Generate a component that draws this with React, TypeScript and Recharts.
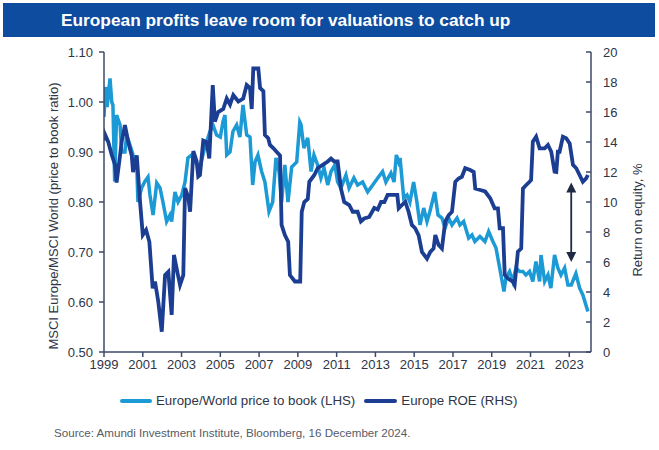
import React from "react";
import {
  LineChart,
  Line,
  XAxis,
  YAxis,
  ReferenceLine,
} from "recharts";

// Europe/World price to book (LHS)
const pbDates = [
  1999.0, 1999.08, 1999.16, 1999.31, 1999.4, 1999.46, 1999.55, 1999.65, 1999.83, 1999.91,
  2000.08, 2000.17, 2000.34, 2000.5, 2000.69, 2000.75, 2000.94,
  2001.11, 2001.27, 2001.37, 2001.53, 2001.72, 2001.89,
  2002.04, 2002.23, 2002.4, 2002.49, 2002.66, 2002.82,
  2003.01, 2003.18, 2003.33, 2003.52, 2003.69, 2003.95,
  2004.2, 2004.47, 2004.62, 2004.81,
  2005.0, 2005.14, 2005.24, 2005.33, 2005.5, 2005.65, 2005.84,
  2006.01, 2006.17, 2006.36, 2006.53, 2006.67, 2006.79, 2006.94,
  2007.13, 2007.3, 2007.51, 2007.7, 2007.87,
  2008.03, 2008.16, 2008.33, 2008.49, 2008.68, 2008.94,
  2009.1, 2009.16, 2009.31, 2009.51, 2009.68, 2009.83,
  2010.02, 2010.19, 2010.35, 2010.54, 2010.71, 2010.91,
  2011.05, 2011.22, 2011.48, 2011.64, 2011.89,
  2012.08, 2012.34, 2012.6, 2012.86,
  2013.12, 2013.37, 2013.54, 2013.8, 2013.96,
  2014.08, 2014.2, 2014.27, 2014.46, 2014.63, 2014.78, 2014.97,
  2015.14, 2015.3, 2015.49, 2015.66, 2015.81,
  2016.06, 2016.23, 2016.43, 2016.59, 2016.78, 2016.95,
  2017.21, 2017.36, 2017.55, 2017.81, 2017.98,
  2018.13, 2018.39, 2018.65, 2018.84,
  2019.06, 2019.22, 2019.41, 2019.63, 2019.73, 2019.92,
  2020.09, 2020.25, 2020.44, 2020.61, 2020.76, 2020.95,
  2021.12, 2021.28, 2021.47, 2021.54, 2021.73, 2021.9,
  2022.05, 2022.24, 2022.41, 2022.57, 2022.76, 2022.93,
  2023.1, 2023.34, 2023.53, 2023.7, 2023.96,
];
const pbValues = [
  0.97, 1.03, 0.99, 1.047, 1.0, 0.994, 0.841, 0.974, 0.954, 0.9,
  0.9, 0.934, 0.914, 0.894, 0.874, 0.8, 0.828,
  0.841, 0.85, 0.814, 0.774, 0.838, 0.828,
  0.8, 0.761, 0.774, 0.761, 0.82, 0.8,
  0.814, 0.84, 0.888, 0.894, 0.88, 0.87,
  0.91, 0.941, 0.954, 0.934,
  0.93, 0.961, 0.974, 0.894, 0.9, 0.941, 0.954,
  0.93, 0.994, 0.934, 0.93, 0.834, 0.88, 0.894,
  0.861, 0.84, 0.781, 0.8, 0.888,
  0.861, 0.8, 0.874, 0.8, 0.87, 0.88,
  0.96, 0.955, 0.908, 0.928, 0.861, 0.894,
  0.874, 0.848, 0.868, 0.834, 0.861, 0.874,
  0.84, 0.828, 0.854, 0.828, 0.848,
  0.834, 0.84, 0.82, 0.834,
  0.848, 0.861, 0.84, 0.858, 0.84,
  0.894, 0.88, 0.888, 0.808, 0.814, 0.8, 0.84,
  0.8, 0.754, 0.788, 0.761, 0.781,
  0.82, 0.774, 0.768, 0.748, 0.768, 0.754,
  0.768, 0.754, 0.761, 0.728, 0.734,
  0.721, 0.731, 0.721, 0.741,
  0.721, 0.708, 0.668, 0.621, 0.648, 0.661,
  0.641, 0.668, 0.661, 0.661, 0.654, 0.661,
  0.641, 0.681, 0.641, 0.694, 0.641, 0.654,
  0.628, 0.694, 0.668, 0.654, 0.668, 0.634,
  0.634, 0.657, 0.628, 0.614, 0.581,
];

// Europe ROE (RHS), %
const roeDates = [
  1999.0, 1999.05, 1999.22, 1999.4, 1999.57, 1999.65, 1999.83, 1999.91,
  2000.08, 2000.25, 2000.43, 2000.5, 2000.69, 2000.86,
  2001.0, 2001.17, 2001.34, 2001.51, 2001.63, 2001.8, 2001.98,
  2002.15, 2002.32, 2002.49, 2002.61, 2002.78, 2002.92,
  2003.09, 2003.18, 2003.35, 2003.44, 2003.61, 2003.78, 2003.86, 2003.95,
  2004.12, 2004.29, 2004.43, 2004.61, 2004.72, 2004.89,
  2005.15, 2005.33, 2005.5, 2005.67, 2005.93,
  2006.18, 2006.36, 2006.53, 2006.62, 2006.7, 2006.96,
  2007.05, 2007.22, 2007.3, 2007.47, 2007.56, 2007.73, 2007.9,
  2008.08, 2008.16, 2008.33, 2008.5, 2008.59, 2008.85,
  2009.12, 2009.2, 2009.33, 2009.51, 2009.59, 2009.85,
  2010.02, 2010.28, 2010.54, 2010.71, 2010.88,
  2011.05, 2011.22, 2011.39, 2011.65, 2011.83,
  2012.08, 2012.25, 2012.42, 2012.68, 2012.94,
  2013.12, 2013.29, 2013.46, 2013.63, 2013.89,
  2014.13, 2014.2, 2014.37, 2014.54, 2014.71, 2014.88,
  2015.05, 2015.23, 2015.4, 2015.66, 2015.83,
  2016.0, 2016.09, 2016.26, 2016.43, 2016.6, 2016.78, 2016.95,
  2017.12, 2017.29, 2017.46, 2017.63, 2017.89,
  2018.07, 2018.15, 2018.41, 2018.66, 2018.92,
  2019.15, 2019.32, 2019.41, 2019.58, 2019.67, 2019.84,
  2020.09, 2020.18, 2020.35, 2020.52, 2020.61, 2020.78, 2020.95,
  2021.03, 2021.12, 2021.29, 2021.47, 2021.73, 2021.9,
  2022.07, 2022.24, 2022.33, 2022.41, 2022.5, 2022.67, 2022.84,
  2023.02, 2023.19, 2023.36, 2023.53, 2023.7, 2023.87, 2023.96,
];
const roeValues = [
  14.1, 14.5, 14.0, 13.13, 12.47, 11.3, 13.13, 14.0,
  15.13, 14.0, 13.1, 12.0, 13.1, 10.0,
  7.8, 8.13, 7.35, 4.25, 4.7, 3.35, 1.35,
  5.13, 5.35, 2.47, 6.47, 5.35, 4.47,
  5.13, 10.93, 10.3, 9.35, 13.4, 12.7, 11.7, 11.8,
  14.1, 14.0, 12.9, 17.8, 15.35, 16.0,
  16.2, 16.9, 16.5, 17.13, 16.7,
  16.9, 17.8, 17.6, 16.2, 18.9, 18.9,
  17.6, 17.4, 14.47, 14.25, 13.8, 13.6, 13.35,
  13.1, 8.47, 7.8, 7.35, 5.13, 4.7,
  4.7, 9.35, 10.0, 10.2, 11.35, 11.8,
  12.25, 12.47, 12.7, 12.9, 12.7,
  12.7, 10.9, 10.0, 9.8, 9.35,
  9.35, 8.7, 8.9, 9.0, 9.6,
  9.5, 10.0, 10.0, 10.47, 10.47,
  10.47, 9.58, 9.8, 10.02, 9.35, 8.47,
  8.25, 7.78, 6.67, 6.22, 6.67,
  6.9, 7.8, 7.13, 6.9, 8.69, 9.13, 9.35,
  11.35, 11.57, 11.68, 12.25, 12.13,
  12.0, 10.9, 10.8, 10.7, 10.25,
  9.58, 9.58, 8.25, 8.25, 5.13, 4.9,
  4.69, 4.47, 6.69, 6.9, 10.9, 11.13, 11.35,
  11.47, 14.02, 14.35, 13.58, 13.58, 13.8,
  13.35, 12.02, 12.0, 13.35, 13.35, 14.35, 14.25,
  13.9, 12.47, 12.25, 11.8, 11.35, 11.57, 11.8,
];

const yearTicks = [1999, 2001, 2003, 2005, 2007, 2009, 2011, 2013, 2015, 2017, 2019, 2021, 2023];
const pbTicks = [0.5, 0.6, 0.7, 0.8, 0.9, 1.0, 1.1];
const roeTicks = [0, 2, 4, 6, 8, 10, 12, 14, 16, 18, 20];

// gap arrow (on the ROE scale)
const arrowYear = 2023.1;
const arrowTop = 11.3;
const arrowBottom = 6.0;

const pbData = pbDates.map((t, i) => ({ t, pb: pbValues[i] }));
const roeData = roeDates.map((t, i) => ({ t, roe: roeValues[i] }));

const LIGHT = "#1b9ad6";
const DARK = "#1b3d92";
const AXIS = "#3d4a68";
const TEXT = "#2e3547";
const FONT = "'Liberation Sans', Arial, sans-serif";

const DoubleArrow = (props: any) => {
  const { x1, y1, x2, y2 } = props;
  const top = Math.min(y1, y2);
  const bot = Math.max(y1, y2);
  const x = (x1 + x2) / 2;
  const c = "#1f2a44";
  return (
    <g>
      <line x1={x} y1={top + 8} x2={x} y2={bot - 8} stroke={c} strokeWidth={1.8} />
      <polygon points={`${x},${top} ${x - 5},${top + 10} ${x + 5},${top + 10}`} fill={c} />
      <polygon points={`${x},${bot} ${x - 5},${bot - 10} ${x + 5},${bot - 10}`} fill={c} />
    </g>
  );
};

// rotated axis title, placed relative to the axis box
const axisTitle = (text: string, fromLeft: number, shiftDown: number) => (props: any) => {
  const vb = props.viewBox || {};
  const cx = (vb.x || 0) + fromLeft;
  const cy = (vb.y || 0) + (vb.height || 0) / 2 + shiftDown;
  return (
    <text
      x={cx}
      y={cy}
      transform={`rotate(-90, ${cx}, ${cy})`}
      textAnchor="middle"
      dominantBaseline="central"
      fill={TEXT}
      fontSize={13}
      fontFamily={FONT}
    >
      {text}
    </text>
  );
};

export default function App() {
  const tickStyle = { fill: TEXT, fontSize: 13, fontFamily: FONT };
  return (
    <div
      style={{
        position: "absolute",
        left: 0,
        top: 0,
        width: 659,
        height: 450,
        background: "#fff",
        fontFamily: FONT,
      }}
    >
      <div
        style={{
          position: "absolute",
          left: 3,
          top: 3,
          width: 652,
          height: 34,
          background: "#0d4c9e",
          color: "#fff",
          fontWeight: "bold",
          fontSize: 17.3,
          lineHeight: "34px",
          paddingLeft: 58,
          boxSizing: "border-box",
        }}
      >
        European profits leave room for valuations to catch up
      </div>

      <LineChart
        width={659}
        height={450}
        margin={{ top: 52, right: 0, bottom: 73, left: 0 }}
        style={{ position: "absolute", left: 0, top: 0 }}
      >
        <XAxis
          dataKey="t"
          type="number"
          domain={[1999, 2024.12]}
          ticks={yearTicks}
          allowDataOverflow
          height={25}
          tick={tickStyle}
          tickSize={5}
          tickMargin={3}
          stroke={AXIS}
          strokeWidth={1.5}
        />
        <YAxis
          yAxisId="pb"
          orientation="left"
          width={104}
          domain={[0.5, 1.1]}
          ticks={pbTicks}
          tickFormatter={(v: number) => v.toFixed(2)}
          tick={tickStyle}
          tickSize={5}
          tickMargin={6}
          stroke={AXIS}
          strokeWidth={1.5}
          label={{
            content: axisTitle("MSCI Europe/MSCI World (price to book ratio)", 53, 14),
          }}
        />
        <YAxis
          yAxisId="roe"
          orientation="right"
          width={68}
          domain={[0, 20]}
          ticks={roeTicks}
          tick={tickStyle}
          tickSize={-5}
          tickMargin={17}
          stroke={AXIS}
          strokeWidth={1.5}
          label={{ content: axisTitle("Return on equity, %", 46, 18) }}
        />
        <Line
          yAxisId="pb"
          data={pbData}
          dataKey="pb"
          type="linear"
          stroke={LIGHT}
          strokeWidth={3.5}
          dot={false}
          isAnimationActive={false}
        />
        <Line
          yAxisId="roe"
          data={roeData}
          dataKey="roe"
          type="linear"
          stroke={DARK}
          strokeWidth={3.8}
          dot={false}
          isAnimationActive={false}
        />
        <ReferenceLine
          yAxisId="roe"
          segment={[
            { x: arrowYear, y: arrowTop },
            { x: arrowYear, y: arrowBottom },
          ]}
          shape={DoubleArrow}
        />
      </LineChart>

      {/* legend */}
      <div
        style={{
          position: "absolute",
          left: 120,
          top: 393,
          display: "flex",
          alignItems: "center",
          fontSize: 13.3,
          color: TEXT,
          whiteSpace: "nowrap",
        }}
      >
        <span style={{ display: "inline-block", width: 32, height: 4, background: LIGHT, borderRadius: 2, marginRight: 4 }} />
        <span>Europe/World price to book (LHS)</span>
        <span style={{ display: "inline-block", width: 33, height: 4, background: DARK, borderRadius: 2, marginLeft: 9, marginRight: 4 }} />
        <span>Europe ROE (RHS)</span>
      </div>

      <div
        style={{
          position: "absolute",
          left: 54,
          top: 426,
          fontSize: 11.6,
          color: "#555b66",
          whiteSpace: "nowrap",
        }}
      >
        Source: Amundi Investment Institute, Bloomberg, 16 December 2024.
      </div>
    </div>
  );
}
